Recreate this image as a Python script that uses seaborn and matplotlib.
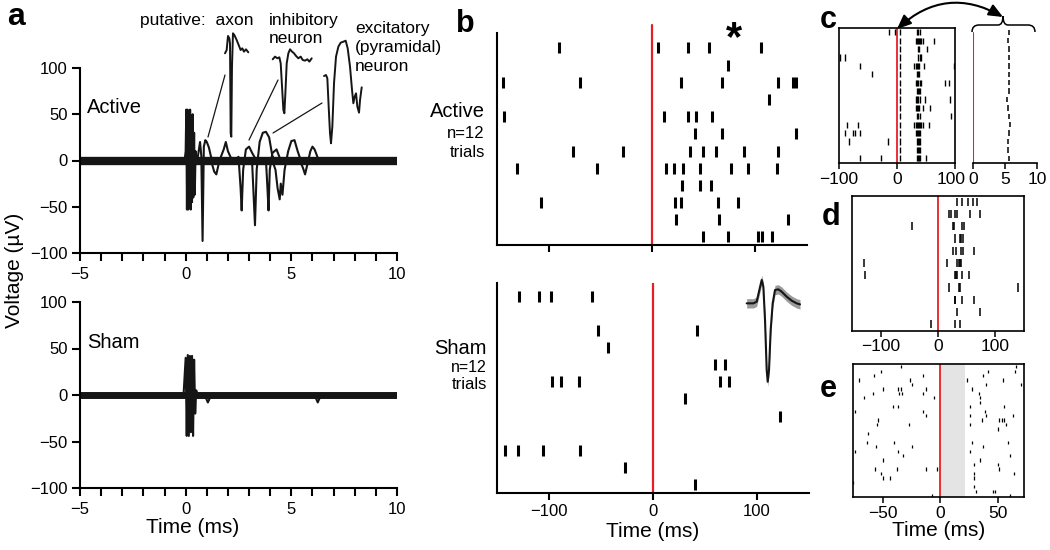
import numpy as np
import pandas as pd
import matplotlib
matplotlib.use("Agg")
import matplotlib.pyplot as plt
import matplotlib.transforms as mtransforms
import seaborn as sns
from matplotlib.path import Path
from matplotlib.patches import PathPatch
from matplotlib.ticker import MultipleLocator

sns.set_theme(style="ticks")
plt.rcParams['font.family'] = ['Liberation Sans', 'DejaVu Sans']
plt.rcParams['axes.unicode_minus'] = True
plt.rcParams['axes.edgecolor'] = 'black'
plt.rcParams['xtick.color'] = 'black'
plt.rcParams['ytick.color'] = 'black'
plt.rcParams['text.color'] = 'black'
plt.rcParams['axes.labelcolor'] = 'black'

# ------------------------------------------------------------------ data
# Panel a (time in ms, voltage in uV) -- Active
act_base_t = [-5, 10]
act_base_v = [0, 0]
act_art_t = [-0.05, 0.0, 0.03, 0.06, 0.09, 0.12, 0.15, 0.18, 0.21, 0.24, 0.27, 0.30, 0.33, 0.36, 0.40, 0.43, 0.47, 0.52]
act_art_v = [0, 10, 55, -53, 55, -53, 50, -50, 55, -53, 45, -45, 50, -40, 30, -37, 10, 0]
act_sp1_t = [0.55, 0.68, 0.74, 0.80, 0.86, 0.93, 1.00, 1.10, 1.20, 1.35]
act_sp1_v = [0, 20, 5, -87, 15, 22, 20, 14, 4, 0]
act_sp2_t = [2.30, 2.50, 2.60, 2.65, 2.72, 2.85, 3.00, 3.15, 3.35]
act_sp2_v = [0, 4, -30, -54, -10, 12, 15, 8, 0]
act_sp3_t = [3.00, 3.15, 3.22, 3.28, 3.36, 3.50, 3.65, 3.80, 3.95, 4.10, 4.25]
act_sp3_v = [0, -5, -40, -70, -10, 20, 30, 31, 25, 5, 0]
act_sp4_t = [3.60, 3.80, 3.87, 3.92, 3.98, 4.10, 4.30, 4.50]
act_sp4_v = [0, 0, -30, -54, -10, 8, 12, 0]
act_sp5_t = [4.10, 4.25, 4.35, 4.45, 4.50, 4.58, 4.68, 4.85, 5.00, 5.15, 5.30, 5.45]
act_sp5_v = [0, -10, -30, -42, -25, -37, -10, 10, 21, 22, 10, 0]
act_sp6_t = [5.40, 5.55, 5.65, 5.75, 5.90, 6.00, 6.10, 6.30]
act_sp6_v = [0, -8, -15, -5, 10, 15, 12, 0]
act_sp7_t = [1.20, 1.35, 1.45, 1.60, 1.80, 1.90, 2.00, 2.20]
act_sp7_v = [0, -12, -15, 0, 12, 20, 10, 0]

# Panel a -- Sham
sham_base_t = [-5, 10]
sham_base_v = [0, 0]
sham_art_t = [-0.10, 0.00, 0.05, 0.10, 0.15, 0.20, 0.25, 0.30, 0.35, 0.40, 0.45, 0.50, 0.55]
sham_art_v = [0, 40, -44, 43, -44, 42, -40, 42, -44, 38, -20, 5, 0]
sham_dip1_t = [0.90, 1.05, 1.15, 1.30]
sham_dip1_v = [0, -8, -3, 0]
sham_dip2_t = [6.10, 6.25, 6.40]
sham_dip2_v = [0, -8, 0]

# Panel a -- putative waveform insets (sample index, amplitude a.u.)
axon_t = [0, 5, 9, 13, 15, 17, 19, 21, 24, 28, 35, 41, 47, 52, 57, 63, 70]
axon_v = [0, 10, 52, 45, 30, -240, -250, -40, 60, 55, 40, 25, 10, 15, 5, 12, 3]
inh_t = [0, 7, 14, 20, 24, 28, 32, 35, 38, 42, 47, 52, 58, 64, 70, 77, 84, 90, 97, 104, 110, 117]
inh_v = [-3, 5, 0, 3, -15, -85, -155, -165, -105, -15, 15, 27, 20, 15, 7, 0, 5, -5, -7, -3, -10, 0]
exc_t = [0, 6, 10, 14, 18, 21, 25, 30, 36, 43, 50, 58, 65, 71, 78, 84, 88, 92, 96, 100, 105, 108, 113]
exc_v = [0, 3, -7, -92, -172, -202, -152, -22, 58, 88, 100, 103, 106, 83, 28, -42, -82, -62, -52, -92, -110, -72, -34]

# Panel b -- spike times (ms) per trial
active_trials = [
    [-90, 6, 35, 55, 105],
    [74],
    [-144, -70, 28, 68, 122, 136, 139],
    [113],
    [-143, 12, 35, 43, 58],
    [42, 68, 139],
    [-76, -28, 37, 49, 62, 89, 122],
    [-131, -53, 14, 21, 30, 46, 76, 93, 121],
    [29, 46, 57],
    [-107, 22, 28, 64, 83],
    [23, 65, 132],
    [49, 74, 103, 106, 116],
]
sham_trials = [
    [-129, -110, -98, -59],
    [],
    [-53, 42],
    [-43],
    [60, 69],
    [-97, -88, -71, 64, 73],
    [31],
    [122],
    [],
    [-142, -130, -106, -70],
    [-27],
    [40],
]
unit_t = [0, 20, 30, 38, 45, 50, 55, 60, 63, 67, 72, 78, 85, 95, 105, 120, 135, 150, 160]
unit_v = [0, 0, 5, 40, 70, 50, -50, -200, -235, -200, -80, 0, 40, 42, 35, 20, 8, 0, -3]

# Panel c -- spike times (ms) per trial
c_trials = [
    [-14, -3, 5.6, 35, 37, 39],
    [5.5, 32, 34, 36, 38, 40, 42, 44, 64],
    [5.55, 36, 38.5, 51],
    [-99, -90, 5.6, 37, 39, 41],
    [-64, 5.55, 30, 32, 34, 36, 38, 47, 98],
    [-43, 5.55, 34, 36, 38.5],
    [5.6, 33, 35, 37, 39, 41, 82, 90],
    [5.55, 34, 36, 38, 40],
    [5.25, 33, 35, 37, 39, 49, 92],
    [5.4, 32, 34, 36, 38, 44, 57],
    [5.55, 35, 37, 39, 93],
    [-87, -68, 5.75, 30, 32, 34, 36, 38, 40, 42, 44, 56],
    [-90, -76, -73, -64, 5.6, 32, 34, 36, 38, 40],
    [-83, -15, 5.5, 34, 36, 38, 40],
    [5.45, 34, 36, 38, 40],
    [-64, -28, 5.55, 34, 36, 38, 40, 50],
]

# Panel d -- spike times (ms) per trial
d_trials = [
    [34, 42, 52, 61, 68],
    [20, 23, 29, 34, 55, 74],
    [-46, 26, 28, 41, 45],
    [30, 39, 40, 43],
    [27, 32, 40, 43, 62],
    [-129, 15, 33, 36, 38, 40],
    [-127, 29, 32, 34, 41, 54],
    [20, 36, 39, 139],
    [29, 30, 41, 63],
    [34, 74],
    [-13, 30, 39],
]

# Panel e -- spike times (ms) per trial
e_trials = [
    [-34, 66],
    [-52, 42, 65],
    [-58, -15, 37],
    [-71, -26, 23, 55],
    [-25, 40, 70],
    [-50, -37, -34, -12, 28],
    [-59, -36, -33, -15, 34],
    [-66, -5, 35],
    [35],
    [-41, -37, 26, 56],
    [-74, -15, 39],
    [-12, 26, 40, 63],
    [-54, 36, 51, 54, 56],
    [-55, -27, 26, 57],
    [50],
    [-63],
    [],
    [-64, -40, 28, 59],
    [-56, -25, 37],
    [-74, -37, 26],
    [-32, 61],
    [-50, 35],
    [29, 50],
    [-57, -38, -12, -3, 51],
    [-52, 29, 64],
    [-50, -44, 29],
    [-76],
    [29],
    [31, 46, 48],
    [-7, 61],
]

RED = '#e81e25'
INK = '#151515'
W, H = 1050, 550
fig = plt.figure(figsize=(10.5, 5.5), dpi=100)


def px_axes(l, t, r, b, **kw):
    return fig.add_axes([l / W, 1 - b / H, (r - l) / W, (b - t) / H], **kw)


def trace(ax, t, v, lw=1.5, **kw):
    sns.lineplot(x=t, y=v, ax=ax, color=INK, linewidth=lw, sort=False,
                 estimator=None, **kw)


def raster(ax, trials, half, lw):
    rows, times = [], []
    for i, tr in enumerate(trials, start=1):
        rows += [i] * len(tr)
        times += list(tr)
    df = pd.DataFrame({'row': rows, 't': times})
    ax.vlines(df['t'], df['row'] - half, df['row'] + half, colors='black', lw=lw)


def wave_inset(l, t, r, b, xs, ys, lw=1.4, band=None):
    ax = px_axes(l, t, r, b)
    ax.set_axis_off()
    xs = np.asarray(xs, float); ys = np.asarray(ys, float)
    ax.set_xlim(xs.min(), xs.max()); ax.set_ylim(ys.min(), ys.max())
    if band is not None:
        ax.fill_between(xs, ys - band, ys + band, color='#9a9a9a', lw=0, clip_on=False)
    ax.plot(xs, ys, color=INK, lw=lw, clip_on=False)
    return ax

# ------------------------------------------------------------------ panel a
axA1 = px_axes(80, 68, 397, 253)
axA2 = px_axes(80, 302, 397, 488)
for ax in (axA1, axA2):
    ax.set_xlim(-5, 10); ax.set_ylim(-100, 100)
    sns.despine(ax=ax)
    for s in ('left', 'bottom'):
        ax.spines[s].set_linewidth(1.5)
    ax.set_xticks([-5, 0, 5, 10])
    ax.xaxis.set_minor_locator(MultipleLocator(1))
    ax.set_yticks([-100, -50, 0, 50, 100])
    ax.tick_params(which='both', direction='out', length=6, width=1.5, labelsize=12)
    ax.tick_params(axis='y', pad=3)
    ax.tick_params(axis='x', pad=4)
    ax.set_xlabel(''); ax.set_ylabel('')

trace(axA1, act_base_t, act_base_v, lw=6, solid_capstyle='butt')
for t, v in [(act_art_t, act_art_v), (act_sp1_t, act_sp1_v), (act_sp2_t, act_sp2_v),
             (act_sp3_t, act_sp3_v), (act_sp4_t, act_sp4_v), (act_sp5_t, act_sp5_v),
             (act_sp6_t, act_sp6_v), (act_sp7_t, act_sp7_v)]:
    trace(axA1, t, v)
trace(axA2, sham_base_t, sham_base_v, lw=5, solid_capstyle='butt')
for t, v in [(sham_art_t, sham_art_v), (sham_dip1_t, sham_dip1_v), (sham_dip2_t, sham_dip2_v)]:
    trace(axA2, t, v)
axA1.set_xlabel(''); axA2.set_xlabel('')
axA2.set_xlabel('Time (ms)', fontsize=15)
axA2.xaxis.set_label_coords((192.5 - 80) / 317, (488 - 518) / 186)

wave_inset(225, 33.3, 248.3, 136.7, axon_t, axon_v)
wave_inset(272.7, 49.3, 311.7, 113.3, inh_t, inh_v)
wave_inset(324, 40.7, 361.7, 143.3, exc_t, exc_v)

# ------------------------------------------------------------------ panel b
axB1 = px_axes(497, 33, 807, 245)
axB2 = px_axes(497, 283, 809, 493)
for ax, trials, ylim in ((axB1, active_trials, (12.47, 0.13)), (axB2, sham_trials, (12.49, 0.24))):
    ax.set_xlim(-150, 150); ax.set_ylim(*ylim)
    sns.despine(ax=ax)
    for s in ('left', 'bottom'):
        ax.spines[s].set_linewidth(1.5)
    ax.set_yticks([])
    ax.set_xticks([-100, 0, 100])
    ax.tick_params(axis='x', direction='out', length=5, width=1.5, labelsize=12, pad=3)
    raster(ax, trials, 0.32, 2.2)
axB1.set_xticklabels([])
axB1.axvline(0, ymin=0, ymax=1 + 8 / 212, color=RED, lw=1.6, clip_on=False)
axB2.axvline(0, ymin=0, ymax=1, color=RED, lw=1.6)
axB2.set_xlabel('Time (ms)', fontsize=15, labelpad=2)
wave_inset(746.7, 280, 800, 381.7, unit_t, unit_v, lw=1.5, band=14)

# ------------------------------------------------------------------ panel c
axC1 = px_axes(839, 28, 955, 163)
axC2 = px_axes(973, 28, 1037, 163)
for ax in (axC1, axC2):
    ax.set_ylim(16.56, 0.49)
    ax.set_yticks([])
    ax.tick_params(axis='x', direction='out', length=4, width=1.1, labelsize=12.5, pad=2.5)
axC1.set_xlim(-100, 100); axC1.set_xticks([-100, 0, 100])
for s in axC1.spines.values():
    s.set_linewidth(1.2)
axC1.axvline(0, color=RED, lw=1.3)
raster(axC1, c_trials, 0.36, 1.0)
axC2.set_xlim(0, 10); axC2.set_xticks([0, 5, 10])
sns.despine(ax=axC2, left=True)
axC2.spines['bottom'].set_linewidth(1.2)
axC2.axvline(0, ymin=0, ymax=(163 - 33) / 135, color=RED, lw=1.5)
raster(axC2, c_trials, 0.33, 1.1)
# nudge the "100" of the left c axis so it does not run into the "0" beside it
fig.canvas.draw()
shift = mtransforms.ScaledTranslation(-4 / 100, 0, fig.dpi_scale_trans)
lab = axC1.get_xticklabels()[-1]
lab.set_transform(lab.get_transform() + shift)

# ------------------------------------------------------------------ panel d
axD = px_axes(852, 196, 1024, 331)
axD.set_xlim(-150, 150); axD.set_ylim(11.55, 0.535)
axD.set_yticks([]); axD.set_xticks([-100, 0, 100])
axD.tick_params(axis='x', direction='out', length=4, width=1.1, labelsize=12.5, pad=1.5)
for s in axD.spines.values():
    s.set_linewidth(1.2)
axD.axvline(0, color=RED, lw=1.3)
raster(axD, d_trials, 0.34, 1.1)

# ------------------------------------------------------------------ panel e
axE = px_axes(853, 364, 1024, 497)
axE.set_xlim(-76, 73); axE.set_ylim(30.3, 0.39)
axE.set_yticks([]); axE.set_xticks([-50, 0, 50])
axE.tick_params(axis='x', direction='out', length=4, width=1.1, labelsize=12.5, pad=2.5)
for s in axE.spines.values():
    s.set_linewidth(1.2)
axE.axvspan(0, 22, color='#e4e4e4', lw=0)
axE.axvline(0, color=RED, lw=1.3)
raster(axE, e_trials, 0.37, 0.9)
axE.set_xlabel('Time (ms)', fontsize=15, labelpad=0)

# ------------------------------------------------------------------ overlay
ov = fig.add_axes([0, 0, 1, 1], zorder=10)
ov.set_xlim(0, W); ov.set_ylim(H, 0); ov.axis('off'); ov.patch.set_alpha(0)

for lbl, x, y, fs in [('a', 7, 25, 23), ('b', 456, 32, 22), ('c', 820, 28, 22),
                      ('d', 822, 225, 22), ('e', 820, 397, 22)]:
    ov.text(x, y, lbl, fontsize=fs, fontweight='bold', ha='left', va='baseline')

fig.text(14 / W, 1 - 270 / H, 'Voltage (µV)', rotation=90, fontsize=15, ha='center', va='center')
ov.text(87, 113, 'Active', fontsize=14.5, ha='left', va='baseline')
ov.text(87, 348, 'Sham', fontsize=14.5, ha='left', va='baseline')
ov.text(140, 25, 'putative:  axon', fontsize=12.5, ha='left', va='baseline')
ov.text(269, 25, 'inhibitory', fontsize=12.5, ha='left', va='baseline')
ov.text(269, 43.3, 'neuron', fontsize=12.5, ha='left', va='baseline')
ov.text(355, 33, 'excitatory', fontsize=12.5, ha='left', va='baseline')
ov.text(355, 52, '(pyramidal)', fontsize=12.5, ha='left', va='baseline')
ov.text(355, 71, 'neuron', fontsize=12.5, ha='left', va='baseline')
for (x0, y0, x1, y1) in [(208, 137, 225, 75), (249, 140, 278, 80), (273, 133, 322, 103)]:
    ov.plot([x0, x1], [y0, y1], color=INK, lw=0.9)

ov.text(485, 117, 'Active', fontsize=14.5, ha='right', va='baseline')
ov.text(485, 137.5, 'n=12', fontsize=12, ha='right', va='baseline')
ov.text(485, 157, 'trials', fontsize=12, ha='right', va='baseline')
ov.text(487, 354, 'Sham', fontsize=14.5, ha='right', va='baseline')
ov.text(487, 372, 'n=12', fontsize=11.5, ha='right', va='baseline')
ov.text(487, 389, 'trials', fontsize=12, ha='right', va='baseline')
ov.text(734, 50, '*', fontsize=30, fontweight='bold', ha='center', va='baseline')

# curved double arrow and brace (panel c)
ov.annotate('', xy=(897, 29), xytext=(1003, 17),
            arrowprops=dict(arrowstyle='<|-|>,head_length=0.7,head_width=0.3',
                            connectionstyle='arc3,rad=0.36', lw=1.5, color='black',
                            shrinkA=0, shrinkB=0, mutation_scale=12))
verts = [(972, 32), (972, 25), (979, 25), (998, 25), (1003, 25), (1003, 16),
         (1003, 16), (1003, 25), (1008, 25), (1028, 25), (1035, 25), (1035, 32)]
codes = [Path.MOVETO, Path.CURVE3, Path.CURVE3, Path.LINETO, Path.CURVE3, Path.CURVE3,
         Path.MOVETO, Path.CURVE3, Path.CURVE3, Path.LINETO, Path.CURVE3, Path.CURVE3]
ov.add_patch(PathPatch(Path(verts, codes), fill=False, lw=1.1, color='black'))

fig.savefig('out.png', dpi=100)
